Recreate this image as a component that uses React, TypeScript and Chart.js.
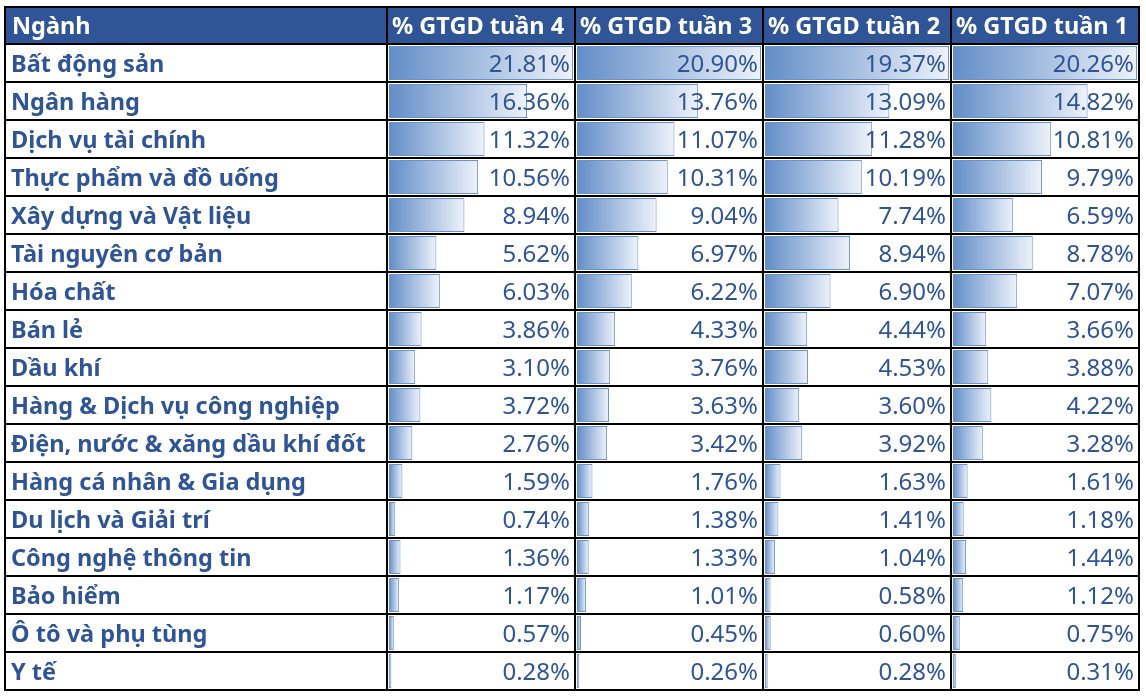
import React, { useEffect, useRef } from 'react';
import { Chart, registerables } from 'chart.js';

Chart.register(...registerables);

const sectors = [
  'Bất động sản',
  'Ngân hàng',
  'Dịch vụ tài chính',
  'Thực phẩm và đồ uống',
  'Xây dựng và Vật liệu',
  'Tài nguyên cơ bản',
  'Hóa chất',
  'Bán lẻ',
  'Dầu khí',
  'Hàng & Dịch vụ công nghiệp',
  'Điện, nước & xăng dầu khí đốt',
  'Hàng cá nhân & Gia dụng',
  'Du lịch và Giải trí',
  'Công nghệ thông tin',
  'Bảo hiểm',
  'Ô tô và phụ tùng',
  'Y tế',
];
const week4 = [21.81, 16.36, 11.32, 10.56, 8.94, 5.62, 6.03, 3.86, 3.10, 3.72, 2.76, 1.59, 0.74, 1.36, 1.17, 0.57, 0.28];
const week3 = [20.90, 13.76, 11.07, 10.31, 9.04, 6.97, 6.22, 4.33, 3.76, 3.63, 3.42, 1.76, 1.38, 1.33, 1.01, 0.45, 0.26];
const week2 = [19.37, 13.09, 11.28, 10.19, 7.74, 8.94, 6.90, 4.44, 4.53, 3.60, 3.92, 1.63, 1.41, 1.04, 0.58, 0.60, 0.28];
const week1 = [20.26, 14.82, 10.81, 9.79, 6.59, 8.78, 7.07, 3.66, 3.88, 4.22, 3.28, 1.61, 1.18, 1.44, 1.12, 0.75, 0.31];
const firstHeader = 'Ngành';
const seriesHeaders = ['% GTGD tuần 4', '% GTGD tuần 3', '% GTGD tuần 2', '% GTGD tuần 1'];

const seriesValues = [week4, week3, week2, week1];
const axisIds = ['xw4', 'xw3', 'xw2', 'xw1'];

const W = 1146;
const H = 696;
const TABLE_TOP = 6;
const NAME_COL = 382;
const INSET = 2;
const HEADER_BG = '#2F5597';
const TEXT_BLUE = '#2F5597';
const BAR_BLUE = '#628DC7';
const BAR_BORDER = '#6A93CC';

const columnPlugin = {
  id: 'columnScales',
  afterLayout(chart: any) {
    const { left, right } = chart.chartArea;
    const colW = (right - left - NAME_COL) / axisIds.length;
    axisIds.forEach((id, i) => {
      const s = chart.scales[id];
      const c0 = left + NAME_COL + i * colW;
      s.left = c0 + INSET;
      s.right = c0 + colW - INSET;
      s.width = s.right - s.left;
      s.configure();
    });
  },
};

const tablePlugin = {
  id: 'tableDraw',
  beforeDraw(chart: any) {
    const ctx = chart.ctx;
    ctx.save();
    ctx.fillStyle = '#ffffff';
    ctx.fillRect(0, 0, chart.width, chart.height);
    const { left, right, top } = chart.chartArea;
    ctx.fillStyle = HEADER_BG;
    ctx.fillRect(left, TABLE_TOP, right - left, top - TABLE_TOP);
    ctx.restore();
  },
  afterDraw(chart: any) {
    const ctx = chart.ctx;
    const { left, right, top, bottom } = chart.chartArea;
    const colW = (right - left - NAME_COL) / axisIds.length;
    const yScale = chart.scales.y;
    const edges = [left, left + NAME_COL];
    for (let i = 1; i <= axisIds.length; i++) edges.push(left + NAME_COL + i * colW);
    ctx.save();
    ctx.fillStyle = '#ffffff';
    ctx.font = '700 23.5px "Noto Sans"';
    ctx.textBaseline = 'middle';
    ctx.textAlign = 'left';
    const hy = (TABLE_TOP + top) / 2 + 2.5;
    ctx.fillText(firstHeader, left + 7, hy);
    seriesHeaders.forEach((h, i) => ctx.fillText(h, edges[i + 1] + 5, hy));
    ctx.fillStyle = TEXT_BLUE;
    ctx.font = '700 23.5px "Noto Sans"';
    sectors.forEach((s, r) => {
      ctx.fillText(s, left + 6, yScale.getPixelForValue(r) + 2.5);
    });
    ctx.font = '400 24px "Noto Sans"';
    ctx.textAlign = 'right';
    seriesValues.forEach((vals, i) => {
      vals.forEach((v, r) => {
        ctx.fillText(v.toFixed(2) + '%', edges[i + 2] - 5, yScale.getPixelForValue(r) + 2.5);
      });
    });
    ctx.strokeStyle = '#000000';
    ctx.lineWidth = 2;
    ctx.beginPath();
    ctx.moveTo(left, TABLE_TOP + 1);
    ctx.lineTo(right, TABLE_TOP + 1);
    const rowH = (bottom - top) / sectors.length;
    for (let k = 0; k <= sectors.length; k++) {
      const y = Math.round(top + k * rowH);
      ctx.moveTo(left - 1, y);
      ctx.lineTo(right + 1, y);
    }
    edges.forEach((x) => {
      const xr = Math.round(x);
      ctx.moveTo(xr, TABLE_TOP);
      ctx.lineTo(xr, bottom + 1);
    });
    ctx.stroke();
    ctx.restore();
  },
};

export default function App() {
  const ref = useRef<HTMLCanvasElement | null>(null);
  useEffect(() => {
    if (!ref.current) return;
    const scales: any = {
      y: { type: 'category', display: false, offset: true, grid: { display: false } },
    };
    axisIds.forEach((id, i) => {
      scales[id] = {
        type: 'linear',
        display: false,
        position: 'bottom',
        min: 0,
        max: Math.max(...seriesValues[i]),
      };
    });
    const chart = new Chart(ref.current, {
      type: 'bar',
      data: {
        labels: sectors,
        datasets: seriesValues.map((vals, i) => ({
          label: seriesHeaders[i],
          data: vals,
          xAxisID: axisIds[i],
          yAxisID: 'y',
          grouped: false,
          barPercentage: 0.9,
          categoryPercentage: 1.0,
          borderWidth: 1,
          borderColor: BAR_BORDER,
          backgroundColor: (c: any) => {
            if (!c || c.type !== 'data' || typeof c.raw !== 'number') return BAR_BLUE;
            const s = c.chart.scales[c.dataset.xAxisID];
            if (!s) return BAR_BLUE;
            const x0 = s.getPixelForValue(0);
            const x1 = s.getPixelForValue(c.raw);
            if (!Number.isFinite(x0) || !Number.isFinite(x1)) return BAR_BLUE;
            const g = c.chart.ctx.createLinearGradient(x0, 0, Math.max(x1, x0 + 1), 0);
            g.addColorStop(0, BAR_BLUE);
            g.addColorStop(1, '#EEF2FA');
            return g;
          },
        })),
      },
      options: {
        indexAxis: 'y',
        responsive: false,
        animation: false,
        events: [],
        layout: { padding: { top: 44, left: 5, right: W - 1139, bottom: H - 690 } },
        plugins: { legend: { display: false }, tooltip: { enabled: false } },
        scales,
      },
      plugins: [columnPlugin, tablePlugin],
    } as any);
    return () => chart.destroy();
  }, []);
  return (
    <div style={{ position: 'absolute', left: 0, top: 0, width: W, height: H, background: '#fff' }}>
      <canvas ref={ref} width={W} height={H} style={{ display: 'block' }} />
    </div>
  );
}
